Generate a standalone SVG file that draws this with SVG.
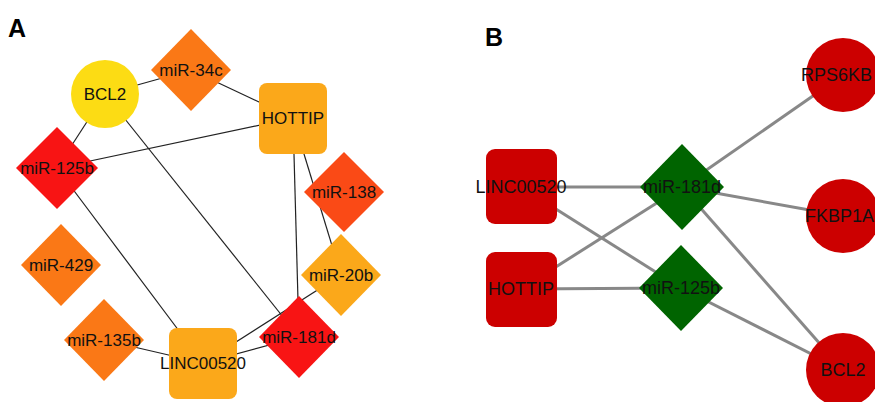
<svg xmlns="http://www.w3.org/2000/svg" width="875" height="402" viewBox="0 0 875 402">
<style>
text{font-family:"Liberation Sans",Arial,sans-serif;fill:#111;text-anchor:middle}
.a text{font-size:17px}
.b text{font-size:18px}
.lbl{font-size:25px;font-weight:bold;text-anchor:start;fill:#000}
.ea line{stroke:#222;stroke-width:1.2}
.eb line{stroke:#888;stroke-width:3}
.yel{fill:#FCDC14}.org{fill:#FA7816}.amb{fill:#FBA81A}.rog{fill:#FA4A16}.red{fill:#F81414}
.dred{fill:#CC0000}.grn{fill:#006400}
</style>
<rect width="875" height="402" fill="#fff"/>
<text class="lbl" x="8" y="37">A</text>
<text class="lbl" x="485" y="46">B</text>
<g class="ea" id="edges-A">
<line x1="105" y1="94" x2="191" y2="70"/>
<line x1="191" y1="70" x2="293" y2="118"/>
<line x1="293" y1="118" x2="57" y2="168"/>
<line x1="105" y1="94" x2="57" y2="168"/>
<line x1="105" y1="94" x2="299" y2="337"/>
<line x1="57" y1="168" x2="203" y2="363"/>
<line x1="293" y1="118" x2="299" y2="337"/>
<line x1="293" y1="118" x2="341" y2="275"/>
<line x1="104" y1="340" x2="203" y2="363"/>
<line x1="203" y1="363" x2="299" y2="337"/>
<line x1="203" y1="363" x2="341" y2="275"/>
</g>
<g class="a">
<g id="A-BCL2"><circle class="yel" cx="105" cy="94" r="34"/><text x="105" y="100">BCL2</text></g>
<g id="A-miR-34c"><polygon class="org" points="191,29 231,70 191,111 151,70"/><text x="191" y="76">miR-34c</text></g>
<g id="A-HOTTIP"><rect class="amb" x="259" y="83" width="68" height="71" rx="8"/><text x="293" y="124">HOTTIP</text></g>
<g id="A-miR-125b"><polygon class="red" points="57,127 98,168 57,209 16,168"/><text x="57" y="174">miR-125b</text></g>
<g id="A-miR-138"><polygon class="rog" points="344,152 384,192 344,232 304,192"/><text x="344" y="198">miR-138</text></g>
<g id="A-miR-429"><polygon class="org" points="61,224 101,265 61,306 21,265"/><text x="61" y="271">miR-429</text></g>
<g id="A-miR-135b"><polygon class="org" points="104,299 144,340 104,381 64,340"/><text x="104" y="346">miR-135b</text></g>
<g id="A-miR-20b"><polygon class="amb" points="341,234 381,275 341,316 301,275"/><text x="341" y="281">miR-20b</text></g>
<g id="A-miR-181d"><polygon class="red" points="299,296 339,337 299,378 259,337"/><text x="299" y="343">miR-181d</text></g>
<g id="A-LINC00520"><rect class="amb" x="169" y="328" width="68" height="71" rx="8"/><text x="203" y="369">LINC00520</text></g>
</g>
<g class="eb" id="edges-B">
<line x1="521" y1="187" x2="682" y2="187"/>
<line x1="521" y1="187" x2="681" y2="288"/>
<line x1="521" y1="289" x2="682" y2="187"/>
<line x1="521" y1="289" x2="681" y2="288"/>
<line x1="682" y1="187" x2="843" y2="75"/>
<line x1="682" y1="187" x2="843" y2="216"/>
<line x1="682" y1="187" x2="843" y2="370"/>
<line x1="681" y1="288" x2="843" y2="370"/>
</g>
<g class="b">
<g id="B-LINC00520"><rect class="dred" x="486" y="149" width="71" height="75" rx="9"/><text x="521" y="193">LINC00520</text></g>
<g id="B-HOTTIP"><rect class="dred" x="486" y="252" width="71" height="75" rx="9"/><text x="521" y="295">HOTTIP</text></g>
<g id="B-miR-181d"><polygon class="grn" points="682,144 724,187 682,230 640,187"/><text x="682" y="193">miR-181d</text></g>
<g id="B-miR-125b"><polygon class="grn" points="681,245 723,288 681,331 639,288"/><text x="681" y="294">miR-125b</text></g>
<g id="B-RPS6KB1"><circle class="dred" cx="843" cy="75" r="37"/><text x="801" y="81" style="text-anchor:start">RPS6KB</text></g>
<g id="B-FKBP1A"><circle class="dred" cx="843" cy="216" r="37"/><text x="805" y="222" style="text-anchor:start">FKBP1A</text></g>
<g id="B-BCL2"><circle class="dred" cx="843" cy="370" r="37"/><text x="843" y="376">BCL2</text></g>
</g>
</svg>
